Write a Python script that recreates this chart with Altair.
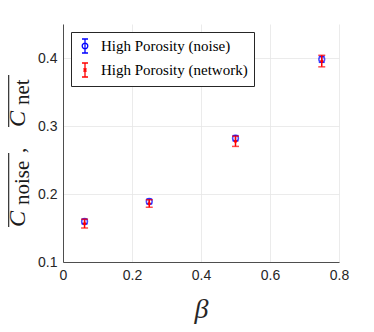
import altair as alt
import pandas as pd

beta = [0.0625, 0.25, 0.5, 0.75]
noise_mean = [0.1595, 0.1890, 0.2820, 0.3980]
noise_err = [0.0035, 0.0035, 0.0040, 0.0045]
net_mean = [0.1565, 0.1860, 0.2775, 0.3955]
net_err = [0.0065, 0.0055, 0.0075, 0.0085]
series_names = ["High Porosity (noise)", "High Porosity (network)"]
series_colors = ["#0000ff", "#ff0000"]
x_ticks = [0, 0.2, 0.4, 0.6, 0.8]
y_ticks = [0.1, 0.2, 0.3, 0.4]

rows = []
for s, means, errs in [(series_names[0], noise_mean, noise_err),
                       (series_names[1], net_mean, net_err)]:
    for b, m, e in zip(beta, means, errs):
        rows.append({"series": s, "beta": b, "mean": m, "lo": m - e, "hi": m + e})
df = pd.DataFrame(rows)

xscale = alt.Scale(domain=[0, 0.8], nice=False, zero=False)
yscale = alt.Scale(domain=[0.1, 0.45], nice=False, zero=False)
xaxis = alt.Axis(values=x_ticks, format="~g", title="β", titleFont="Liberation Serif",
                 titleFontStyle="italic", titleFontSize=28, titleFontWeight="normal",
                 titleColor="#262626", titlePadding=13, labelPadding=6, labelFlush=False)
yaxis = alt.Axis(values=y_ticks, format=".1f", title=None, labelPadding=6, labelFlush=False)


def X():
    return alt.X("beta:Q", scale=xscale, axis=xaxis, title="β")


def Y(field):
    return alt.Y(field + ":Q", scale=yscale, axis=yaxis, title=None)


base = alt.Chart(df)

layers = []
for name, col, cap, sw in [(series_names[0], series_colors[0], 6, 1.3),
                           (series_names[1], series_colors[1], 7, 1.5)]:
    sub = base.transform_filter(alt.datum.series == name)
    layers.append(sub.mark_rule(color=col, strokeWidth=sw).encode(
        x=X(), y=Y("lo"), y2=alt.Y2("hi:Q")))
    layers.append(sub.mark_tick(color=col, orient="horizontal", size=cap, thickness=sw).encode(
        x=X(), y=Y("lo")))
    layers.append(sub.mark_tick(color=col, orient="horizontal", size=cap, thickness=sw).encode(
        x=X(), y=Y("hi")))
    if name == series_names[0]:
        layers.append(sub.mark_point(color=col, shape="circle", size=34, strokeWidth=1.5,
                                     filled=False).encode(x=X(), y=Y("mean")))
    else:
        layers.append(sub.mark_point(color=col, shape="circle", size=10,
                                     filled=True, opacity=1).encode(x=X(), y=Y("mean")))

noise_path = ("M0,-1L0,1M-0.43,-1L0.43,-1M-0.43,1L0.43,1"
              "M-0.4,0A0.4,0.4 0 1,0 0.4,0A0.4,0.4 0 1,0 -0.4,0Z")
net_path = ("M0,-1L0,1M-0.43,-1L0.43,-1M-0.43,1L0.43,1"
            "M-0.22,-0.22L0.22,0.22M-0.22,0.22L0.22,-0.22")

leg = alt.Legend(title=None, orient="none", legendX=8, legendY=8, symbolOpacity=1,
                 labelFont="Liberation Serif", labelFontSize=15, labelColor="#000000",
                 strokeColor="#262626", fillColor="white", padding=6, cornerRadius=0,
                 symbolSize=196, symbolStrokeWidth=1.3, rowPadding=4, labelOffset=8)

legend_layer = base.mark_point(filled=False, opacity=0).encode(
    x=X(), y=Y("mean"),
    color=alt.Color("series:N", scale=alt.Scale(domain=series_names, range=series_colors),
                    legend=leg),
    shape=alt.Shape("series:N", scale=alt.Scale(domain=series_names,
                                                range=[noise_path, net_path]),
                    legend=leg),
)
layers.append(legend_layer)

one = alt.Data(values=[{"k": 1}])
tcol = "#1a1a1a"


def txt(s, x, y, size, style="normal"):
    return alt.Chart(one).mark_text(text=s, angle=270, align="left", baseline="alphabetic",
                                    font="Liberation Serif", fontSize=size, fontStyle=style,
                                    color=tcol).encode(x=alt.value(x), y=alt.value(y))


def oline(x, y1, y2):
    return alt.Chart(one).mark_rule(color=tcol, strokeWidth=1.1).encode(
        x=alt.value(x), y=alt.value(y1), y2=alt.value(y2))


layers += [
    txt("C", -38, 203, 24, "italic"),
    txt("noise", -34, 181, 21),
    txt(",", -38, 129, 21),
    txt("C", -38, 103, 24, "italic"),
    txt("net", -34, 81, 21),
    oline(-54.3, 203, 129),
    oline(-54.3, 103, 51),
]

chart = alt.layer(*layers).properties(
    width=276, height=238,
    autosize=alt.AutoSizeParams(type="none"),
    padding={"left": 55, "top": 16, "right": 27, "bottom": 62},
).configure_view(stroke=None).configure_axis(
    domainColor="#262626", domainWidth=0.8, gridColor="#e6e6e6", gridWidth=0.8,
    labelFont="Liberation Sans", labelFontSize=14, labelColor="#262626", ticks=False,
).configure_legend(
    labelFont="Liberation Serif", labelFontSize=15,
)

chart.save("out.html", embed_options={"renderer": "svg", "actions": False})
